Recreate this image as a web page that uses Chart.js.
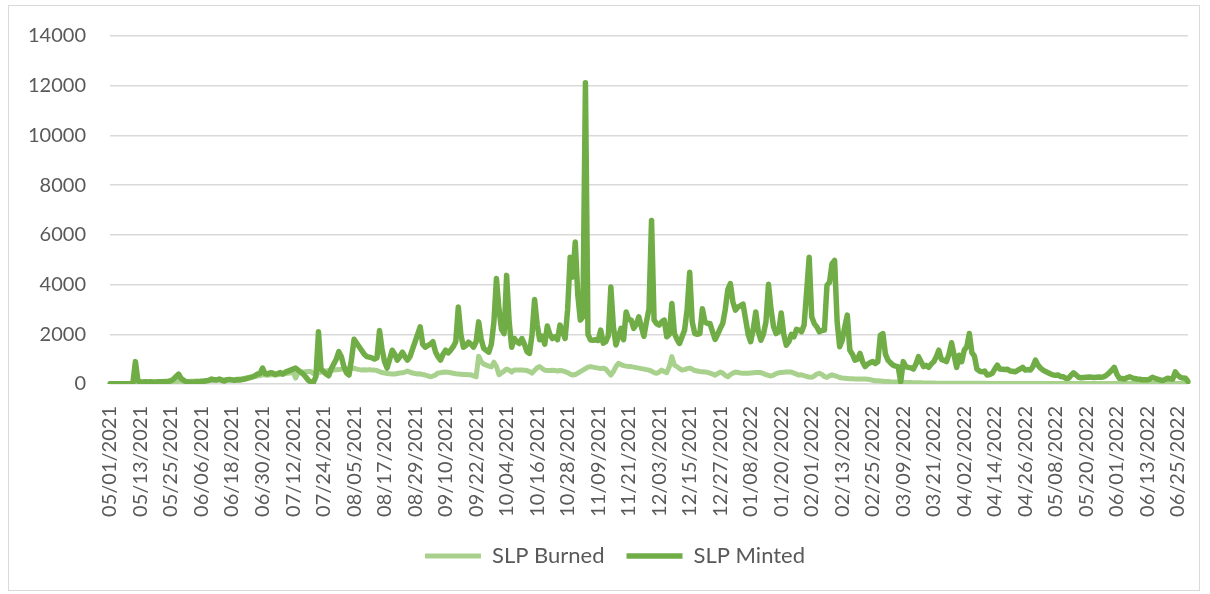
<!DOCTYPE html>
<html>
<head>
<meta charset="utf-8">
<script src="https://cdn.jsdelivr.net/npm/chart.js@4.4.1/dist/chart.umd.min.js"></script>
<style>
  html, body { margin: 0; padding: 0; background: #fff; }
  #wrap { position: relative; width: 1210px; height: 594px; }
  #frame { position: absolute; left: 8px; top: 5px; width: 1192px; height: 586px; border: 1px solid #d9d9d9; box-sizing: border-box; }
  #myChart { position: absolute; left: 0; top: 0; }
</style>
</head>
<body>
<div id="wrap">
  <div id="frame"></div>
  <canvas id="myChart" width="1210" height="594"></canvas>
</div>
<script>
// daily series, 05/01/2021 .. 06/29/2022
let firstDay = '2021-05-01';
let dayCount = 425;

let tickLabels = ['05/01/2021', '05/13/2021', '05/25/2021', '06/06/2021', '06/18/2021', '06/30/2021',
  '07/12/2021', '07/24/2021', '08/05/2021', '08/17/2021', '08/29/2021', '09/10/2021', '09/22/2021',
  '10/04/2021', '10/16/2021', '10/28/2021', '11/09/2021', '11/21/2021', '12/03/2021', '12/15/2021',
  '12/27/2021', '01/08/2022', '01/20/2022', '02/01/2022', '02/13/2022', '02/25/2022', '03/09/2022',
  '03/21/2022', '04/02/2022', '04/14/2022', '04/26/2022', '05/08/2022', '05/20/2022', '06/01/2022',
  '06/13/2022', '06/25/2022'];

let slpMinted = [
  10, 10, 10, 10, 10, 10, 10, 10, 10, 40,
  900, 120, 90, 80, 90, 80, 90, 85, 80, 90,
  95, 90, 100, 110, 130, 200, 300, 400, 220, 150,
  90, 80, 70, 80, 90, 85, 100, 110, 130, 150,
  200, 170, 160, 200, 150, 120, 170, 180, 160, 150,
  170, 160, 180, 200, 230, 260, 290, 330, 400, 420,
  640, 420, 400, 450, 440, 380, 420, 460, 400, 480,
  520, 560, 600, 640, 560, 480, 400, 280, 150, 80,
  60, 300, 2100, 600, 500, 400, 330, 600, 800, 1000,
  1300, 1100, 700, 450, 360, 1000, 1800, 1650, 1500, 1350,
  1200, 1100, 1080, 1050, 1000, 1050, 2150, 1400, 900, 640,
  1000, 1360, 1200, 960, 1100, 1280, 1100, 960, 1100, 1400,
  1700, 2000, 2300, 1600, 1480, 1550, 1600, 1700, 1300, 1100,
  960, 1200, 1360, 1250, 1360, 1500, 1700, 3100, 2000, 1480,
  1550, 1680, 1600, 1480, 1700, 2500, 1800, 1430, 1350, 1280,
  1600, 2500, 4240, 3000, 2200, 2030, 4370, 2500, 1480, 1830,
  1700, 1630, 1830, 1600, 1300, 1230, 2000, 3400, 2400, 1780,
  1920, 1600, 2330, 2000, 1830, 1900, 1780, 2370, 2100, 1830,
  3000, 5100, 4300, 5710, 3570, 2570, 2700, 12120, 2000, 1770,
  1760, 1780, 1750, 2170, 1640, 1700, 1940, 3900, 2300, 1570,
  1900, 2240, 1780, 2900, 2600, 2570, 2240, 2400, 2700, 2300,
  1920, 2500, 3030, 6580, 2570, 2430, 2370, 2500, 2570, 1900,
  2000, 3240, 2030, 1800, 1630, 1900, 2170, 3000, 4500, 2500,
  2030, 2000, 2030, 3030, 2500, 2430, 2430, 2100, 1790, 2000,
  2230, 2430, 3000, 3800, 4040, 3300, 2970, 3100, 3150, 3210,
  2600, 2000, 1700, 2200, 2900, 2100, 1760, 2000, 2500, 4010,
  3000, 2300, 2030, 2100, 2860, 2000, 1560, 1700, 2000, 1900,
  2200, 2170, 2100, 2370, 3700, 5100, 2700, 2430, 2300, 2100,
  2150, 2170, 3970, 4090, 4840, 4970, 2500, 1500, 1760, 2300,
  2770, 1360, 1200, 960, 1000, 1230, 900, 700, 800, 860,
  900, 830, 900, 1960, 2030, 1200, 960, 850, 760, 720,
  700, 90, 900, 700, 670, 650, 600, 800, 1100, 900,
  700, 750, 670, 800, 900, 1100, 1360, 990, 950, 900,
  1200, 1660, 1160, 670, 1160, 900, 1360, 1500, 2030, 1260,
  1120, 590, 520, 490, 520, 360, 380, 430, 600, 760,
  600, 590, 580, 590, 520, 510, 490, 550, 600, 670,
  560, 580, 560, 700, 960, 760, 640, 560, 500, 450,
  400, 360, 350, 360, 300, 290, 230, 230, 350, 450,
  360, 270, 250, 260, 270, 280, 270, 260, 270, 280,
  270, 300, 360, 450, 550, 670, 400, 230, 220, 200,
  250, 290, 250, 220, 200, 190, 170, 175, 170, 200,
  270, 230, 200, 160, 140, 180, 230, 210, 200, 490,
  350, 270, 240, 230, 100
];

let slpBurned = [
  0, 0, 0, 0, 0, 0, 0, 0, 0, 5,
  10, 20, 30, 30, 40, 40, 50, 50, 60, 60,
  70, 70, 80, 80, 90, 90, 100, 110, 110, 100,
  100, 100, 110, 110, 120, 120, 130, 130, 140, 140,
  150, 150, 160, 160, 170, 170, 160, 170, 180, 180,
  190, 200, 210, 230, 250, 270, 280, 300, 320, 340,
  380, 360, 350, 370, 380, 360, 370, 390, 400, 420,
  430, 450, 460, 240, 450, 470, 480, 490, 500, 500,
  420, 430, 450, 480, 500, 520, 540, 550, 560, 570,
  580, 600, 610, 620, 600, 610, 640, 600, 580, 560,
  570, 560, 580, 560, 560, 540, 500, 460, 440, 420,
  410, 400, 400, 420, 440, 450, 480, 520, 480, 440,
  420, 400, 410, 380, 360, 330, 290, 320, 360, 440,
  450, 470, 480, 470, 450, 430, 410, 400, 390, 380,
  380, 370, 370, 330, 290, 1120, 900, 800, 760, 720,
  690, 880, 700, 370, 450, 520, 600, 560, 480, 560,
  560, 560, 560, 550, 540, 500, 440, 550, 650, 700,
  620, 560, 540, 540, 550, 540, 520, 540, 530, 500,
  460, 400, 360, 380, 440, 500, 560, 620, 680, 700,
  680, 660, 640, 620, 640, 600, 480, 360, 500, 700,
  830, 780, 740, 720, 700, 700, 680, 660, 640, 620,
  600, 580, 560, 520, 460, 430, 480, 560, 500, 460,
  700, 1100, 760, 700, 620, 560, 580, 620, 640, 600,
  540, 520, 500, 490, 480, 470, 440, 400, 350, 420,
  480, 440, 350, 290, 380, 440, 480, 460, 440, 430,
  430, 430, 440, 450, 460, 460, 460, 420, 380, 350,
  320, 360, 420, 450, 460, 470, 480, 480, 480, 440,
  400, 360, 370, 340, 300, 280, 270, 320, 400, 430,
  380, 300, 270, 330, 370, 340, 300, 260, 240, 230,
  220, 210, 210, 200, 200, 200, 200, 200, 190, 180,
  150, 130, 130, 120, 110, 100, 100, 90, 85, 80,
  80, 75, 70, 65, 60, 60, 55, 55, 50, 50,
  45, 45, 40, 40, 40, 35, 35, 35, 30, 30,
  30, 30, 30, 30, 30, 30, 30, 30, 30, 30,
  30, 28, 28, 26, 26, 25, 25, 25, 24, 24,
  24, 24, 23, 23, 23, 22, 22, 22, 22, 22,
  22, 22, 21, 21, 21, 21, 20, 20, 20, 20,
  20, 20, 20, 20, 20, 20, 20, 20, 20, 20,
  20, 20, 20, 20, 20, 20, 20, 20, 20, 20,
  20, 20, 20, 20, 20, 20, 20, 20, 20, 20,
  20, 20, 20, 20, 20, 20, 20, 20, 20, 20,
  20, 20, 20, 20, 20, 20, 20, 20, 20, 20,
  20, 20, 20, 20, 20
];

// category labels mm/dd/yyyy, one per day
let labels = [];
let d = new Date(firstDay + 'T12:00:00');
for (let i = 0; i < dayCount; i++) {
  let mm = String(d.getMonth() + 1).padStart(2, '0');
  let dd = String(d.getDate()).padStart(2, '0');
  labels.push(mm + '/' + dd + '/' + d.getFullYear());
  d.setDate(d.getDate() + 1);
}
let shown = new Set(tickLabels);

let font = 'Lato, Carlito, Calibri, sans-serif';
let ctx = document.getElementById('myChart').getContext('2d');

// nudge the legend a bit right, like the excel original
let legendShift = {
  id: 'legendShift',
  afterLayout(chart) {
    chart.legend.left += 16;
    chart.legend.right += 16;
  }
};

let myChart = new Chart(ctx, {
  type: 'line',
  data: {
    labels: labels,
    datasets: [{
      label: 'SLP Burned',
      data: slpBurned,
      borderColor: '#A9D18E',
      backgroundColor: '#A9D18E',
      borderWidth: 5,
      borderCapStyle: 'round',
      borderJoinStyle: 'round',
      pointRadius: 0,
      tension: 0,
      order: 1
    }, {
      label: 'SLP Minted',
      data: slpMinted,
      borderColor: '#70AD47',
      backgroundColor: '#70AD47',
      borderWidth: 5.5,
      borderCapStyle: 'round',
      borderJoinStyle: 'round',
      pointRadius: 0,
      tension: 0,
      order: 0
    }]
  },
  options: {
    responsive: false,
    animation: false,
    layout: {
      padding: { left: 10, right: 22, top: 35, bottom: 17 }
    },
    scales: {
      x: {
        grid: { display: false },
        border: { display: false },
        ticks: {
          autoSkip: false,
          minRotation: 90,
          maxRotation: 90,
          padding: 14,
          color: '#595959',
          font: { family: font, size: 20 },
          callback: function(value) {
            let l = this.getLabelForValue(value);
            return shown.has(l) ? l : '';
          }
        },
        afterFit: (scale) => {
          scale.height = 139;
          scale.paddingLeft = 0;
          scale.paddingRight = 0;
        }
      },
      y: {
        min: 0,
        max: 14000,
        grid: { color: '#d9d9d9', lineWidth: 1.5, drawTicks: false },
        border: { display: false },
        ticks: {
          stepSize: 2000,
          padding: 24,
          color: '#595959',
          font: { family: font, size: 20 },
          callback: (value) => String(value)
        },
        afterFit: (scale) => { scale.width = 100; }
      }
    },
    plugins: {
      legend: {
        position: 'bottom',
        labels: {
          sort: (a, b) => a.datasetIndex - b.datasetIndex,
          usePointStyle: true,
          pointStyle: 'line',
          pointStyleWidth: 56,
          padding: 22,
          color: '#595959',
          font: { family: font, size: 22 }
        }
      },
      tooltip: { enabled: false }
    }
  },
  plugins: [legendShift]
});
</script>
</body>
</html>
